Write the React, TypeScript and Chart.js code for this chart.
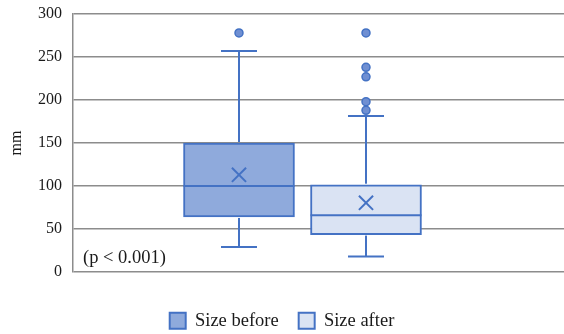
import React, { useEffect, useRef } from "react";
import { Chart, registerables } from "chart.js";

Chart.register(...registerables);

// ---- data ----
const SERIES = ["Size before", "Size after"];
const BOX_X = [1, 2];
const WHISKER_LOW = [29, 18];
const Q1 = [64, 43.5];
const MEDIAN = [100, 66];
const Q3 = [150, 101.5];
const WHISKER_HIGH = [257, 181.5];
const MEAN = [113, 80.5];
const OUTLIERS_BEFORE = [278];
const OUTLIERS_AFTER = [278, 238, 227, 198, 188];
const Y_TICKS = [0, 50, 100, 150, 200, 250, 300];
const Y_TITLE = "mm";
const NOTE = "(p < 0.001)";

// ---- styles ----
const FILLS = ["#8FAADC", "#DAE3F3"];
const LINE = "#4472C4";
const GRID = "#8C8C8C";
const TEXT = "#1a1a1a";
const SERIF = "'Liberation Serif', 'Times New Roman', serif";

const boxPlugin = {
  id: "boxWhisker",
  afterDatasetDraw(chart: any, args: any) {
    const meta = args.meta;
    if (meta.type !== "bar") return;
    const i = args.index;
    const el = meta.data[0];
    if (!el) return;
    const y = chart.scales.y;
    const ctx = chart.ctx;
    const half = el.width / 2;
    const cx = el.x;
    const cap = 18;
    ctx.save();
    ctx.strokeStyle = LINE;
    ctx.lineWidth = 2;
    const seg = (x1: number, y1: number, x2: number, y2: number) => {
      ctx.beginPath();
      ctx.moveTo(x1, y1);
      ctx.lineTo(x2, y2);
      ctx.stroke();
    };
    const my = y.getPixelForValue(MEDIAN[i]);
    seg(cx - half, my, cx + half, my);
    const yq3 = y.getPixelForValue(Q3[i]);
    const yhi = y.getPixelForValue(WHISKER_HIGH[i]);
    seg(cx, yq3 - 1, cx, yhi);
    seg(cx - cap, yhi, cx + cap, yhi);
    const yq1 = y.getPixelForValue(Q1[i]);
    const ylo = y.getPixelForValue(WHISKER_LOW[i]);
    seg(cx, yq1 + 1, cx, ylo);
    seg(cx - cap, ylo, cx + cap, ylo);
    ctx.restore();
  },
};

const notePlugin = {
  id: "note",
  afterDraw(chart: any) {
    const ctx = chart.ctx;
    const a = chart.chartArea;
    ctx.save();
    ctx.font = `18.5px ${SERIF}`;
    ctx.fillStyle = TEXT;
    ctx.textAlign = "left";
    ctx.textBaseline = "middle";
    ctx.fillText(NOTE, a.left + 10, a.bottom - 14);
    ctx.restore();
  },
};

export default function App() {
  const ref = useRef<HTMLCanvasElement | null>(null);

  useEffect(() => {
    document.body.style.margin = "0";
    const canvas = ref.current;
    if (!canvas) return;

    const boxSets = SERIES.map((name, i) => ({
      type: "bar" as const,
      label: name,
      data: [{ x: BOX_X[i], y: [Q1[i], Q3[i]] }],
      backgroundColor: FILLS[i],
      borderColor: LINE,
      borderWidth: 2,
      borderSkipped: false,
      barThickness: 111,
      grouped: false,
      order: 3,
    }));

    const outliers = [
      ...OUTLIERS_BEFORE.map((v) => ({ x: BOX_X[0], y: v })),
      ...OUTLIERS_AFTER.map((v) => ({ x: BOX_X[1], y: v })),
    ];

    const chart = new Chart(canvas, {
      type: "bar",
      data: {
        datasets: [
          ...boxSets,
          {
            type: "scatter",
            label: "mean",
            data: MEAN.map((v, i) => ({ x: BOX_X[i], y: v })),
            pointStyle: "crossRot",
            pointRadius: 10,
            pointBorderWidth: 2,
            pointBorderColor: LINE,
            pointBackgroundColor: LINE,
            order: 1,
          },
          {
            type: "scatter",
            label: "outliers",
            data: outliers,
            pointStyle: "circle",
            pointRadius: 4,
            pointBorderWidth: 1.5,
            pointBorderColor: LINE,
            pointBackgroundColor: "#6F8FD2",
            order: 1,
          },
        ] as any,
      },
      options: {
        animation: false,
        responsive: true,
        maintainAspectRatio: false,
        events: [],
        layout: {
          autoPadding: false,
          padding: { top: 14, right: 0, left: 0, bottom: -6 },
        },
        scales: {
          x: {
            type: "linear",
            min: -0.307,
            max: 3.559,
            offset: false,
            display: true,
            ticks: { display: false },
            grid: { display: false },
            border: { display: false },
            afterFit: (s: any) => {
              s.height = 19.5;
              s.paddingLeft = 0;
              s.paddingRight = 0;
              s.paddingTop = 0;
              s.paddingBottom = 0;
            },
          },
          y: {
            min: 0,
            max: 300,
            afterBuildTicks: (s: any) => {
              s.ticks = Y_TICKS.map((v) => ({ value: v }));
            },
            afterFit: (s: any) => {
              s.width = 73;
              s.paddingTop = 0;
              s.paddingBottom = 0;
              s.paddingLeft = 0;
              s.paddingRight = 0;
            },
            ticks: {
              padding: 11,
              color: TEXT,
              font: { family: SERIF, size: 16 },
            },
            grid: { color: GRID, lineWidth: 1.5, drawTicks: false },
            border: { display: true, color: GRID, width: 1.5 },
            title: {
              display: true,
              text: Y_TITLE,
              color: TEXT,
              font: { family: SERIF, size: 16 },
              padding: { top: 7, bottom: 0 },
            },
          },
        },
        plugins: {
          tooltip: { enabled: false },
          legend: {
            position: "bottom",
            labels: {
              filter: (item: any) => item.datasetIndex < 2,
              boxWidth: 16,
              boxHeight: 16,
              padding: 20,
              color: TEXT,
              font: { family: SERIF, size: 18.5 },
            },
          },
        },
      } as any,
      plugins: [boxPlugin, notePlugin],
    });

    return () => chart.destroy();
  }, []);

  return (
    <div style={{ width: 564, height: 334, position: "relative" }}>
      <canvas ref={ref} />
    </div>
  );
}
